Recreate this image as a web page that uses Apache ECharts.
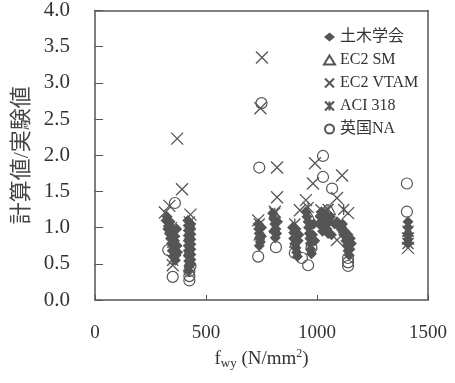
<!DOCTYPE html>
<html>
<head>
<meta charset="utf-8">
<script src="https://cdn.jsdelivr.net/npm/echarts@6/dist/echarts.min.js"></script>
<style>
  html, body { margin: 0; padding: 0; background: #fff; }
  #main { width: 455px; height: 383px; }
</style>
</head>
<body>
<div id="main"></div>
<script>
// 系列名
const seriesNames = ["土木学会", "EC2 SM", "EC2 VTAM", "ACI 318", "英国NA"];
const xTicks = [0, 500, 1000, 1500];

// [fwy, 計算値/実験値]
const jsceData = [
  [320, 1.1], [325, 1.15], [328, 0.98], [330, 1.02], [335, 0.92], [338, 1.08], [340, 0.85], [345, 0.78],
  [348, 0.68], [350, 0.95], [352, 0.6], [355, 0.7], [358, 0.82], [360, 0.88], [362, 0.55], [365, 0.62],
  [368, 0.98], [370, 0.75], [372, 0.66],
  [418, 1.1], [420, 1.03], [420, 0.96], [420, 0.89], [420, 0.82], [420, 0.75], [420, 0.68], [420, 0.61],
  [422, 0.54], [422, 0.47], [422, 0.4],
  [432, 1.05], [432, 0.98], [432, 0.91], [432, 0.84], [432, 0.77], [432, 0.7], [432, 0.63], [432, 0.56], [432, 0.49],
  [735, 1.05], [738, 0.98], [740, 0.92], [742, 0.86], [745, 0.8], [740, 0.75], [750, 1.0], [750, 0.88],
  [800, 1.2], [805, 1.12], [810, 1.05], [815, 0.98], [818, 0.92], [812, 0.86], [805, 0.95], [822, 1.08],
  [890, 1.0], [895, 0.93], [895, 0.85], [900, 0.78], [905, 0.72], [908, 0.66], [912, 0.6], [915, 0.82],
  [918, 0.9], [905, 0.98],
  [950, 1.22], [955, 1.15], [960, 1.08], [962, 1.0], [965, 0.92], [968, 0.85], [970, 0.78], [972, 0.7],
  [975, 0.64], [980, 0.9], [985, 1.05], [990, 0.82],
  [1010, 1.05], [1015, 1.15], [1020, 1.22], [1030, 1.2], [1035, 1.12], [1040, 1.05], [1045, 0.98], [1050, 0.92],
  [1055, 1.08], [1060, 1.15], [1025, 0.95], [1065, 0.9],
  [1080, 1.05], [1090, 1.08], [1100, 1.02], [1110, 0.97], [1115, 1.05], [1120, 0.9], [1125, 0.95], [1130, 0.82],
  [1135, 0.75], [1140, 0.68], [1145, 0.62], [1148, 0.7], [1150, 0.85], [1155, 0.78], [1140, 0.9],
  [1410, 1.08], [1410, 1.0], [1410, 0.92], [1410, 0.84], [1410, 0.78]
];
const ec2smData = [
  [340, 1.05], [350, 0.8], [425, 0.9], [425, 0.7], [740, 0.9], [810, 1.0], [900, 0.8],
  [970, 1.15], [1040, 1.2], [1060, 1.25], [1120, 1.0], [1410, 0.95]
];
const ec2vtamData = [
  [370, 2.23], [392, 1.53], [315, 1.21], [335, 1.3], [350, 0.48], [430, 1.18],
  [752, 3.35], [745, 2.65], [820, 1.83], [820, 1.42], [735, 1.1], [810, 1.22],
  [991, 1.89], [982, 1.61], [1113, 1.72], [950, 1.38], [923, 1.24], [1020, 1.24], [1090, 1.41], [1090, 0.83], [1140, 1.2],
  [1410, 0.72], [1410, 0.85]
];
const aciData = [
  [345, 1.0], [350, 0.55], [425, 1.08], [740, 1.05], [810, 1.2], [900, 1.05], [960, 1.28],
  [1020, 1.15], [1050, 1.25], [1120, 1.25], [1410, 0.78], [1410, 0.95]
];
const naData = [
  [360, 1.34], [330, 0.69], [350, 0.32], [425, 0.4], [425, 0.33], [425, 0.27], [430, 0.47],
  [750, 2.72], [740, 1.83], [735, 0.6], [815, 0.73],
  [1027, 1.99], [1027, 1.7], [1068, 1.54], [932, 0.58], [960, 0.48], [900, 0.65], [975, 0.72],
  [1140, 0.58], [1140, 0.47], [1140, 0.52],
  [1405, 1.61], [1405, 1.22]
];

const FONT = "'Liberation Serif', 'Noto Sans CJK JP', serif";
const GRAY = "#555";
const TEXT = "#333";

// 枠線だけの軸（上・右）
const frameAxis = {
  type: "value",
  axisLine: { show: true, onZero: false, lineStyle: { color: GRAY, width: 1.5 } },
  axisTick: { show: false },
  axisLabel: { show: false },
  splitLine: { show: false }
};

const chart = echarts.init(document.getElementById("main"));
chart.setOption({
  backgroundColor: "#fff",
  animation: false,
  grid: { left: 95, right: 27, top: 10, bottom: 83 },
  legend: {
    orient: "vertical",
    left: 318, top: 24,
    itemWidth: 11, itemHeight: 9, itemGap: 7,
    backgroundColor: "#fff",
    textStyle: { fontFamily: FONT, fontSize: 16, color: TEXT },
    data: seriesNames
  },
  xAxis: [
    {
      type: "value", min: xTicks[0], max: xTicks[3], interval: 500,
      name: "{f|f}{s|wy}{f| (N/mm}{p|2}{f|)}",
      nameLocation: "middle", nameGap: 41,
      nameTextStyle: {
        rich: {
          f: { fontFamily: FONT, fontSize: 19, color: TEXT },
          s: { fontFamily: FONT, fontSize: 13, color: TEXT, verticalAlign: "bottom", padding: [8, 0, 0, 0] },
          p: { fontFamily: FONT, fontSize: 12, color: TEXT, verticalAlign: "top", padding: [0, 0, 10, 0] }
        }
      },
      axisLine: { show: true, onZero: false, lineStyle: { color: GRAY, width: 1.5 } },
      axisTick: { show: true, inside: true, length: 5, lineStyle: { color: GRAY } },
      axisLabel: { margin: 24, fontFamily: FONT, fontSize: 19, color: TEXT, formatter: v => String(v) },
      splitLine: { show: false }
    },
    Object.assign({ position: "top", min: 0, max: 1500 }, frameAxis)
  ],
  yAxis: [
    {
      type: "value", min: 0, max: 4, interval: 0.5,
      name: "計算値/実験値",
      nameLocation: "middle", nameGap: 62, nameRotate: 90,
      nameTextStyle: { fontFamily: FONT, fontSize: 22, color: "#444" },
      axisLine: { show: true, onZero: false, lineStyle: { color: GRAY, width: 1.5 } },
      axisTick: { show: true, inside: true, length: 8, lineStyle: { color: GRAY } },
      axisLabel: {
        margin: 25, fontFamily: FONT, fontSize: 21, color: TEXT,
        formatter: v => v.toFixed(1)
      },
      splitLine: { show: false }
    },
    Object.assign({ position: "right", min: 0, max: 4 }, frameAxis)
  ],
  series: [
    {
      name: seriesNames[0], type: "scatter", data: jsceData,
      symbol: "diamond", symbolSize: 11,
      itemStyle: { color: GRAY, opacity: 1 }
    },
    {
      name: seriesNames[1], type: "scatter", data: ec2smData,
      symbol: "triangle", symbolSize: 10,
      itemStyle: { color: "transparent", borderColor: GRAY, borderWidth: 1.2, opacity: 1 }
    },
    {
      name: seriesNames[2], type: "scatter", data: ec2vtamData,
      symbol: "path://M0,0L10,10M10,0L0,10", symbolSize: 12,
      itemStyle: { color: "transparent", borderColor: GRAY, borderWidth: 1.3, opacity: 1 }
    },
    {
      name: seriesNames[3], type: "scatter", data: aciData,
      symbol: "path://M0,0L10,10M10,0L0,10M5,0L5,10", symbolSize: 11,
      itemStyle: { color: "transparent", borderColor: GRAY, borderWidth: 1.3, opacity: 1 }
    },
    {
      name: seriesNames[4], type: "scatter", data: naData,
      symbol: "circle", symbolSize: 11,
      itemStyle: { color: "transparent", borderColor: GRAY, borderWidth: 1.2, opacity: 1 }
    }
  ]
});
</script>
</body>
</html>
